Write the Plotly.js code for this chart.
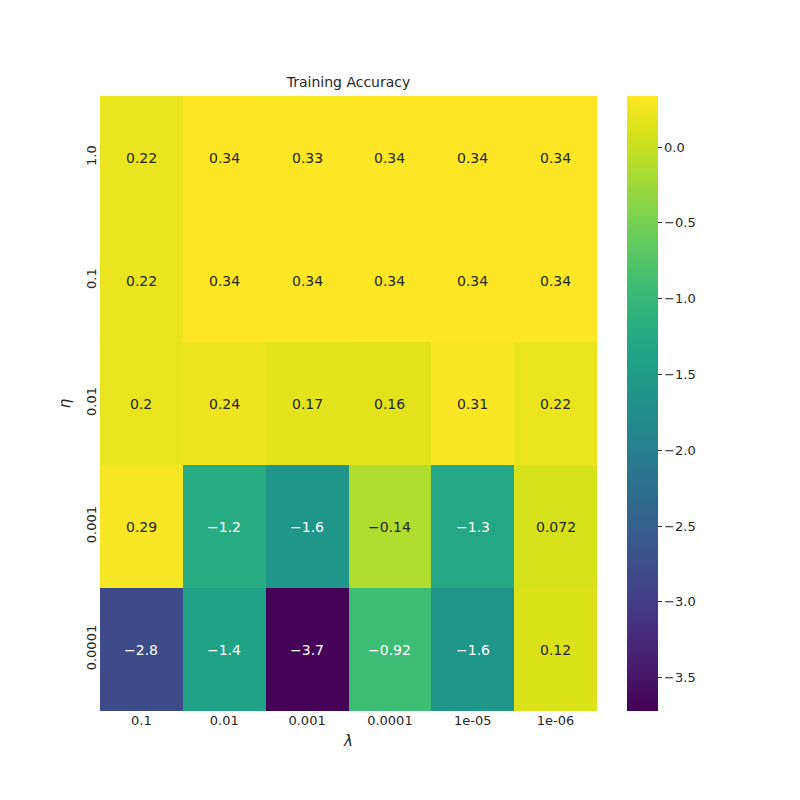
<!DOCTYPE html>
<html>
<head>
<meta charset="utf-8">
<script src="https://cdn.plot.ly/plotly-3.0.1.min.js"></script>
<style>body{margin:0;background:#fff}</style>
</head>
<body>
<div id="chart" style="width:800px;height:800px"></div>
<script>
// ── Datos ────────────────────────────────────────────
const lambdas = ['0.1', '0.01', '0.001', '0.0001', '1e-05', '1e-06'];
const etas    = ['1.0', '0.1', '0.01', '0.001', '0.0001'];

const row_1     = [0.22, 0.34, 0.33, 0.34, 0.34, 0.34];
const row_01    = [0.22, 0.34, 0.34, 0.34, 0.34, 0.34];
const row_001   = [0.2, 0.24, 0.17, 0.16, 0.31, 0.22];
const row_0001  = [0.29, -1.2, -1.6, -0.14, -1.3, 0.072];
const row_00001 = [-2.8, -1.4, -3.7, -0.92, -1.6, 0.12];

const z = [row_1, row_01, row_001, row_0001, row_00001];
const zmin = -3.72, zmax = 0.337;

const font = { family: 'DejaVu Sans, Arial', color: '#262626', size: 13 };

// texto de cada celda, posicionado por índice de categoría
const annotations = [];
z.forEach((row, i) => row.forEach((v, j) => {
  annotations.push({
    x: j, y: i, xref: 'x', yref: 'y',
    text: String(v).replace('-', '−'), showarrow: false,
    font: { family: font.family, size: 14, color: v < -0.5 ? '#ffffff' : '#262626' }
  });
}));

const trace = {
  type: 'heatmap',
  x: lambdas, y: etas, z: z,
  zmin: zmin, zmax: zmax,
  colorscale: 'Viridis',
  colorbar: {
    x: 1.06, xanchor: 'left', y: 0.5, len: 1, lenmode: 'fraction',
    thickness: 31, outlinewidth: 0, xpad: 0, ypad: 0,
    tickvals: [0, -0.5, -1, -1.5, -2, -2.5, -3, -3.5],
    ticktext: ['0.0', '−0.5', '−1.0', '−1.5', '−2.0', '−2.5', '−3.0', '−3.5'],
    ticks: 'outside', ticklen: 4, tickcolor: '#262626',
    tickfont: font
  },
  hoverinfo: 'z'
};

const layout = {
  width: 800, height: 800,
  paper_bgcolor: '#ffffff', plot_bgcolor: '#ffffff',
  margin: { l: 100, r: 203, t: 96, b: 89 },
  font: font,
  title: { text: 'Training Accuracy', x: (100 + 497 / 2) / 800, xanchor: 'center', y: 1 - 82 / 800, yanchor: 'middle', font: { family: font.family, size: 14, color: '#262626' } },
  xaxis: {
    type: 'category', tickfont: font, ticks: '', showgrid: false, zeroline: false,
    title: { text: '<i>λ</i>', font: { family: font.family, size: 15, color: '#262626' }, standoff: 8 }
  },
  yaxis: {
    type: 'category', autorange: 'reversed', tickfont: font, ticks: '', tickangle: -90,
    showgrid: false, zeroline: false,
    title: { text: '<i>η</i>', font: { family: font.family, size: 15, color: '#262626' }, standoff: 10 }
  },
  annotations: annotations
};

Plotly.newPlot('chart', [trace], layout, { displayModeBar: false });
</script>
</body>
</html>
